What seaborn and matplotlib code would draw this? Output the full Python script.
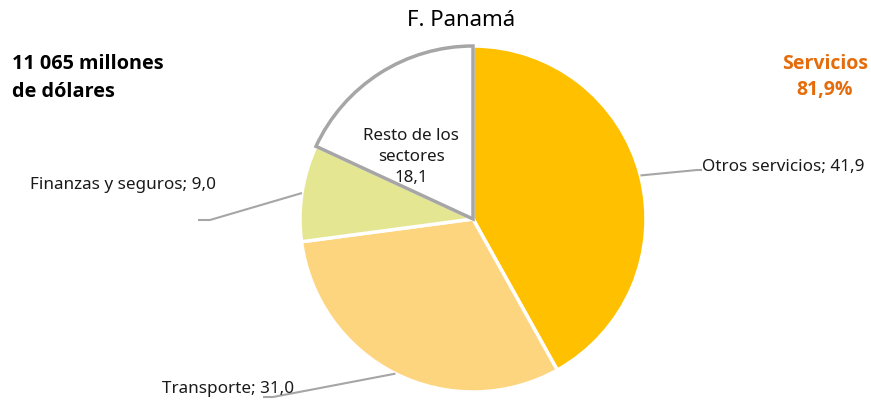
import numpy as np
import matplotlib
matplotlib.use("Agg")
import matplotlib.pyplot as plt
import seaborn as sns

# Datos (participación en el PIB, %)
sectores = ["Otros servicios", "Transporte", "Finanzas y seguros", "Resto de los\nsectores"]
valores = [41.9, 31.0, 9.0, 18.1]
colores = ["#FFC000", "#FED57F", "#E5E692", "#FFFFFF"]
titulo = "F. Panamá"
total_txt = "11 065 millones\nde dólares"
servicios_txt = "Servicios\n81,9%"

sns.set_theme(style="white")
plt.rcParams["font.family"] = ["Noto Sans", "DejaVu Sans"]
negrita = ["Open Sans", "Lato", "DejaVu Sans"]

W, H = 871, 402
fig = plt.figure(figsize=(W / 100, H / 100), dpi=100)
ax = fig.add_axes([0, 0, 1, 1])

cx, cy, r = 473, H - 220, 173
wedges, _ = ax.pie(valores, colors=colores, startangle=90, counterclock=False,
                   center=(cx, cy), radius=r,
                   wedgeprops=dict(edgecolor="white", linewidth=2.5))
# borde gris del "resto"
wedges[3].set_edgecolor("#A6A6A6")
wedges[3].set_linewidth(2.5)
wedges[3].set_zorder(5)

ax.set_xlim(0, W)
ax.set_ylim(0, H)
ax.set_aspect("auto")
ax.axis("off")

def fmt(v):
    return f"{v:.1f}".replace(".", ",")

# etiquetas externas con líneas guía: (codo x, codo y, fin x, texto x, texto y)
guias = {
    0: (697, 171, 702, 702, 167),
    1: (273, 398, 263, 162, 389),
    2: (210, 221, 198, 30, 185),
}
for i, (ex, ey, fx, tx, ty) in guias.items():
    w = wedges[i]
    ang = np.deg2rad((w.theta1 + w.theta2) / 2)
    ax0, ay0 = cx + r * np.cos(ang), cy + r * np.sin(ang)
    ax.plot([ax0, ex, fx], [ay0, H - ey, H - ey], color="#A6A6A6", lw=1.5,
            solid_capstyle="butt", zorder=1)
    ax.text(tx, H - ty, f"{sectores[i]}; {fmt(valores[i])}", ha="left", va="center",
            fontsize=12.3, color="#1a1a1a")

# etiqueta interna del resto
ax.text(411, H - 157, f"{sectores[3]}\n{fmt(valores[3])}", ha="center", va="center",
        fontsize=12.2, color="#1a1a1a", linespacing=1.4, zorder=6)

ax.text(461, H - 21, titulo, ha="center", va="center", fontsize=16, color="black")
ax.text(12, H - 78, total_txt, ha="left", va="center", fontsize=14.3, fontweight="bold",
        family=negrita, color="black", linespacing=1.5)
ax.text(868, H - 77, servicios_txt, ha="right", va="center", fontsize=14,
        fontweight="bold", family=negrita, color="#E46C0A", linespacing=1.45,
        multialignment="center")

fig.savefig("out.png", dpi=100)
